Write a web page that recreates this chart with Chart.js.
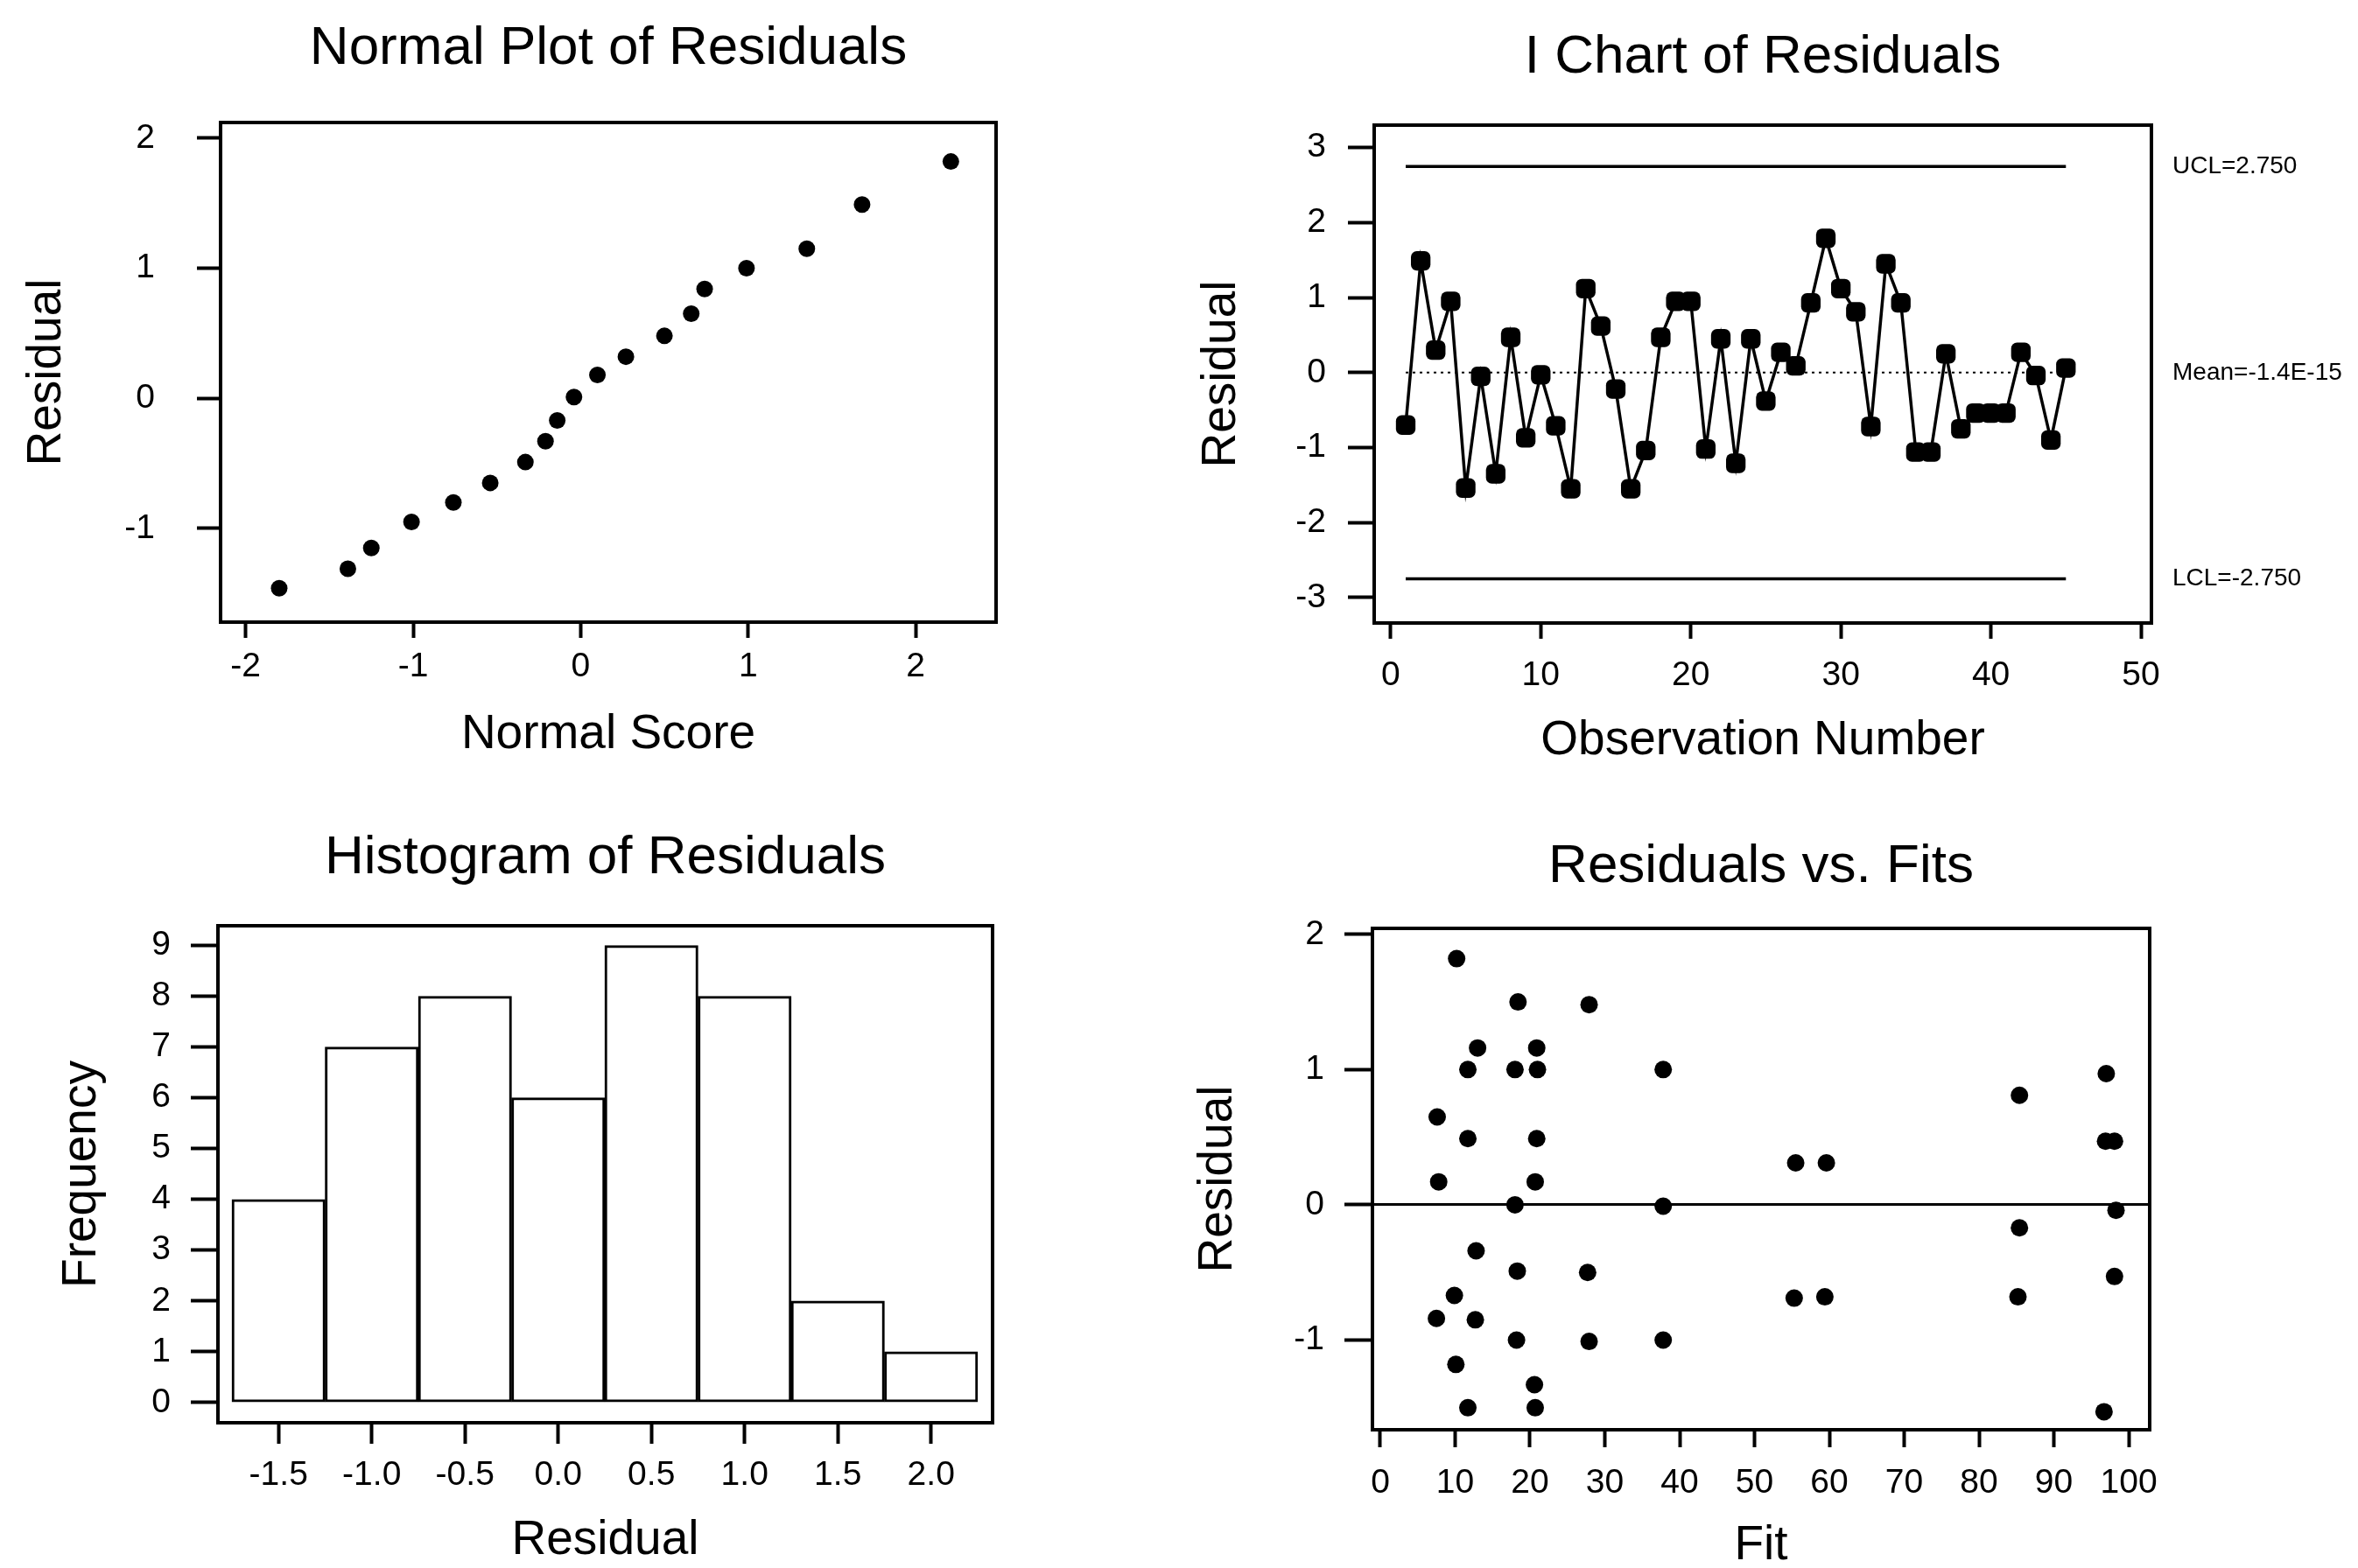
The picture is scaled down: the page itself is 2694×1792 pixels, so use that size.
<!DOCTYPE html>
<html lang="en">
  <head>
    <meta charset="utf-8" />
    <title>Residual Plots</title>
    <style>
      body {
        margin: 0;
        background-color: white;
      }
      #page {
        position: relative;
        width: 2694px;
        height: 1792px;
        background: white;
      }
      #page canvas {
        position: absolute;
      }
    </style>
  </head>
  <body>
    <div id="page">
      <canvas id="normal" width="1347" height="896" style="left: 0; top: 0"></canvas>
      <canvas id="ichart" width="1347" height="896" style="left: 1347px; top: 0"></canvas>
      <canvas id="hist" width="1347" height="896" style="left: 0; top: 896px"></canvas>
      <canvas id="fits" width="1347" height="896" style="left: 1347px; top: 896px"></canvas>
    </div>
    <script src="https://cdn.jsdelivr.net/npm/chart.js"></script>
    <script>
      // normal probability plot (distinct residuals vs normal score)
      const normalScores = [-1.8, -1.39, -1.25, -1.01, -0.76, -0.54, -0.33, -0.21, -0.14, -0.04, 0.1, 0.27, 0.5, 0.66, 0.74, 0.99, 1.35, 1.68, 2.21];
      const normalResiduals = [-1.46, -1.31, -1.15, -0.95, -0.8, -0.65, -0.49, -0.33, -0.17, 0.01, 0.18, 0.32, 0.48, 0.65, 0.84, 1.0, 1.15, 1.49, 1.82];
      const normalXTicks = [-2, -1, 0, 1, 2];
      const normalYTicks = [-1, 0, 1, 2];

      // individuals chart, residual by observation order
      const observationResiduals = [
        -0.7, 1.49, 0.3, 0.95, -1.54, -0.05, -1.35, 0.47, -0.87, -0.03,
        -0.71, -1.55, 1.12, 0.62, -0.22, -1.55, -1.04, 0.47, 0.95, 0.95,
        -1.02, 0.45, -1.21, 0.45, -0.38, 0.27, 0.09, 0.93, 1.79, 1.12,
        0.81, -0.72, 1.45, 0.93, -1.06, -1.06, 0.25, -0.75, -0.54, -0.54,
        -0.54, 0.27, -0.04, -0.9, 0.06,
      ];
      const ucl = 2.75;
      const lcl = -2.75;
      const centerLine = -1.4e-15;
      const centerLabel = "Mean=-1.4E-15";
      const ichartXTicks = [0, 10, 20, 30, 40, 50];
      const ichartYTicks = [-3, -2, -1, 0, 1, 2, 3];

      // histogram
      const binCenters = [-1.5, -1.0, -0.5, 0.0, 0.5, 1.0, 1.5, 2.0];
      const frequencies = [4, 7, 8, 6, 9, 8, 2, 1];
      const histYTicks = [0, 1, 2, 3, 4, 5, 6, 7, 8, 9];

      // residuals vs fitted values
      const fitValues = [
        10.2, 18.4, 27.9, 13.0, 20.9, 11.7, 18.0, 21.0, 37.8, 7.6,
        11.7, 20.9, 7.8, 20.7, 55.5, 59.6, 18.0, 37.8, 12.8, 18.3,
        27.7, 9.9, 7.5, 12.7, 18.2, 27.9, 37.8, 55.3, 59.4, 10.1,
        20.6, 11.7, 20.7, 97.0, 85.4, 96.9, 98.1, 98.3, 85.4, 98.1,
        85.2, 96.7,
      ];
      const fitResiduals = [
        1.82, 1.5, 1.48, 1.16, 1.16, 1.0, 1.0, 1.0, 1.0, 0.65,
        0.49, 0.49, 0.17, 0.17, 0.31, 0.31, 0.0, -0.01, -0.34, -0.49,
        -0.5, -0.67, -0.84, -0.85, -1.0, -1.01, -1.0, -0.69, -0.68, -1.18,
        -1.33, -1.5, -1.5, 0.97, 0.81, 0.47, 0.47, -0.04, -0.17, -0.53,
        -0.68, -1.53,
      ];
      const fitXTicks = [0, 10, 20, 30, 40, 50, 60, 70, 80, 90, 100];
      const fitYTicks = [-1, 0, 1, 2];

      Chart.defaults.font.family = '"Liberation Sans", Arial, sans-serif';
      Chart.defaults.color = "#000";

      const tickFont = { size: 39 };
      const axisFont = { size: 55, lineHeight: 0.8 };

      // box round the plot area, panel heading and control limit labels
      const panelPlugin = {
        id: "panel",
        afterDraw(chart, args, opts) {
          const { ctx, chartArea: a } = chart;
          ctx.save();
          ctx.strokeStyle = "#000";
          ctx.lineWidth = 4;
          ctx.strokeRect(a.left, a.top, a.right - a.left, a.bottom - a.top);
          ctx.fillStyle = "#000";
          ctx.textBaseline = "middle";
          ctx.textAlign = "center";
          ctx.font = '62px "Liberation Sans", Arial, sans-serif';
          ctx.fillText(opts.title, (a.left + a.right) / 2, opts.titleY);
          if (opts.sideLabels) {
            ctx.textAlign = "left";
            ctx.font = '28px "Liberation Sans", Arial, sans-serif';
            opts.sideLabels.forEach(({ text, value }) => {
              const y = chart.scales.y.getPixelForValue(value);
              ctx.fillText(text, a.right + 24, y);
            });
          }
          ctx.restore();
        },
      };

      function axis({ min, max, ticks, size, tickLength, padding, title, titlePad, vertical, fmt }) {
        return {
          type: "linear",
          min,
          max,
          offset: false,
          afterBuildTicks: (s) => {
            s.ticks = ticks.map((v) => ({ value: v }));
          },
          afterFit: (s) => {
            if (vertical) s.width = size;
            else s.height = size;
          },
          grid: {
            offset: false,
            drawOnChartArea: false,
            tickLength,
            tickWidth: 4,
            tickColor: "#000",
          },
          border: { display: false },
          ticks: {
            font: tickFont,
            padding,
            autoSkip: false,
            maxRotation: 0,
            callback: fmt || ((v) => String(v)),
          },
          title: {
            display: true,
            text: title,
            font: axisFont,
            padding: vertical ? { top: titlePad, bottom: 0 } : { top: 0, bottom: titlePad },
          },
        };
      }

      const common = {
        responsive: false,
        animation: false,
        devicePixelRatio: 1,
      };

      new Chart(document.getElementById("normal"), {
        type: "scatter",
        data: {
          datasets: [
            {
              data: normalScores.map((x, i) => ({ x, y: normalResiduals[i] })),
              pointRadius: 9.5,
              backgroundColor: "#000",
              borderWidth: 0,
            },
          ],
        },
        options: {
          ...common,
          layout: { padding: { left: 0, top: 140, right: 209, bottom: 0 } },
          plugins: {
            legend: { display: false },
            tooltip: { enabled: false },
            panel: { title: "Normal Plot of Residuals", titleY: 56 },
          },
          scales: {
            x: axis({ min: -2.15, max: 2.48, ticks: normalXTicks, size: 185, tickLength: 18, padding: 10, title: "Normal Score", titlePad: 34 }),
            y: axis({ min: -1.72, max: 2.12, ticks: normalYTicks, size: 252, tickLength: 27, padding: 48, title: "Residual", titlePad: 32, vertical: true }),
          },
        },
        plugins: [panelPlugin],
      });

      const limitLine = (value, dash, width) => ({
        data: [
          { x: 1, y: value },
          { x: observationResiduals.length, y: value },
        ],
        showLine: true,
        borderColor: "#000",
        borderWidth: width,
        borderDash: dash,
        pointRadius: 0,
      });

      new Chart(document.getElementById("ichart"), {
        type: "scatter",
        data: {
          datasets: [
            limitLine(ucl, [], 3.5),
            limitLine(lcl, [], 3.5),
            limitLine(centerLine, [3, 5], 2),
            {
              data: observationResiduals.map((y, i) => ({ x: i + 1, y })),
              showLine: true,
              borderColor: "#000",
              borderWidth: 3.5,
              pointStyle: "rectRounded",
              pointRadius: 13,
              pointBackgroundColor: "#000",
              pointBorderWidth: 0,
            },
          ],
        },
        options: {
          ...common,
          layout: { padding: { left: 0, top: 143, right: 236, bottom: 0 } },
          plugins: {
            legend: { display: false },
            tooltip: { enabled: false },
            panel: {
              title: "I Chart of Residuals",
              titleY: 66,
              sideLabels: [
                { text: "UCL=" + ucl.toFixed(3), value: ucl },
                { text: centerLabel, value: centerLine },
                { text: "LCL=" + lcl.toFixed(3), value: lcl },
              ],
            },
          },
          scales: {
            x: axis({ min: -1.1, max: 50.7, ticks: ichartXTicks, size: 184, tickLength: 18, padding: 19, title: "Observation Number", titlePad: 27 }),
            y: axis({ min: -3.34, max: 3.3, ticks: ichartYTicks, size: 223, tickLength: 30, padding: 25, title: "Residual", titlePad: 27, vertical: true }),
          },
        },
        plugins: [panelPlugin],
      });

      new Chart(document.getElementById("hist"), {
        type: "bar",
        data: {
          datasets: [
            {
              data: binCenters.map((x, i) => ({ x, y: frequencies[i] })),
              backgroundColor: "#fff",
              borderColor: "#000",
              borderWidth: 3,
              borderSkipped: false,
              barPercentage: 1,
              categoryPercentage: 1,
            },
          ],
        },
        options: {
          ...common,
          layout: { padding: { left: 0, top: 162, right: 213, bottom: 0 } },
          plugins: {
            legend: { display: false },
            tooltip: { enabled: false },
            panel: { title: "Histogram of Residuals", titleY: 85 },
          },
          scales: {
            x: axis({ min: -1.825, max: 2.33, ticks: binCenters, size: 166, tickLength: 24, padding: 13, title: "Residual", titlePad: 9, fmt: (v) => v.toFixed(1) }),
            y: axis({ min: -0.4, max: 9.39, ticks: histYTicks, size: 249, tickLength: 31, padding: 23, title: "Frequency", titlePad: 72, vertical: true }),
          },
        },
        plugins: [panelPlugin],
      });

      const fitY = axis({ min: -1.663, max: 2.044, ticks: fitYTicks, size: 221, tickLength: 32, padding: 23, title: "Residual", titlePad: 23, vertical: true });
      // only the zero reference line is drawn across the plot
      fitY.grid.drawOnChartArea = true;
      fitY.grid.lineWidth = 3;
      fitY.grid.color = (c) => (c.tick && c.tick.value === 0 ? "#000" : "rgba(0,0,0,0)");

      new Chart(document.getElementById("fits"), {
        type: "scatter",
        data: {
          datasets: [
            {
              data: fitValues.map((x, i) => ({ x, y: fitResiduals[i] })),
              pointRadius: 10,
              backgroundColor: "#000",
              borderWidth: 0,
            },
          ],
        },
        options: {
          ...common,
          layout: { padding: { left: 0, top: 165, right: 238, bottom: 0 } },
          plugins: {
            legend: { display: false },
            tooltip: { enabled: false },
            panel: { title: "Residuals vs. Fits", titleY: 95 },
          },
          scales: {
            x: axis({ min: -1.05, max: 102.8, ticks: fitXTicks, size: 158, tickLength: 20, padding: 18, title: "Fit", titlePad: 3 }),
            y: fitY,
          },
        },
        plugins: [panelPlugin],
      });
    </script>
  </body>
</html>
